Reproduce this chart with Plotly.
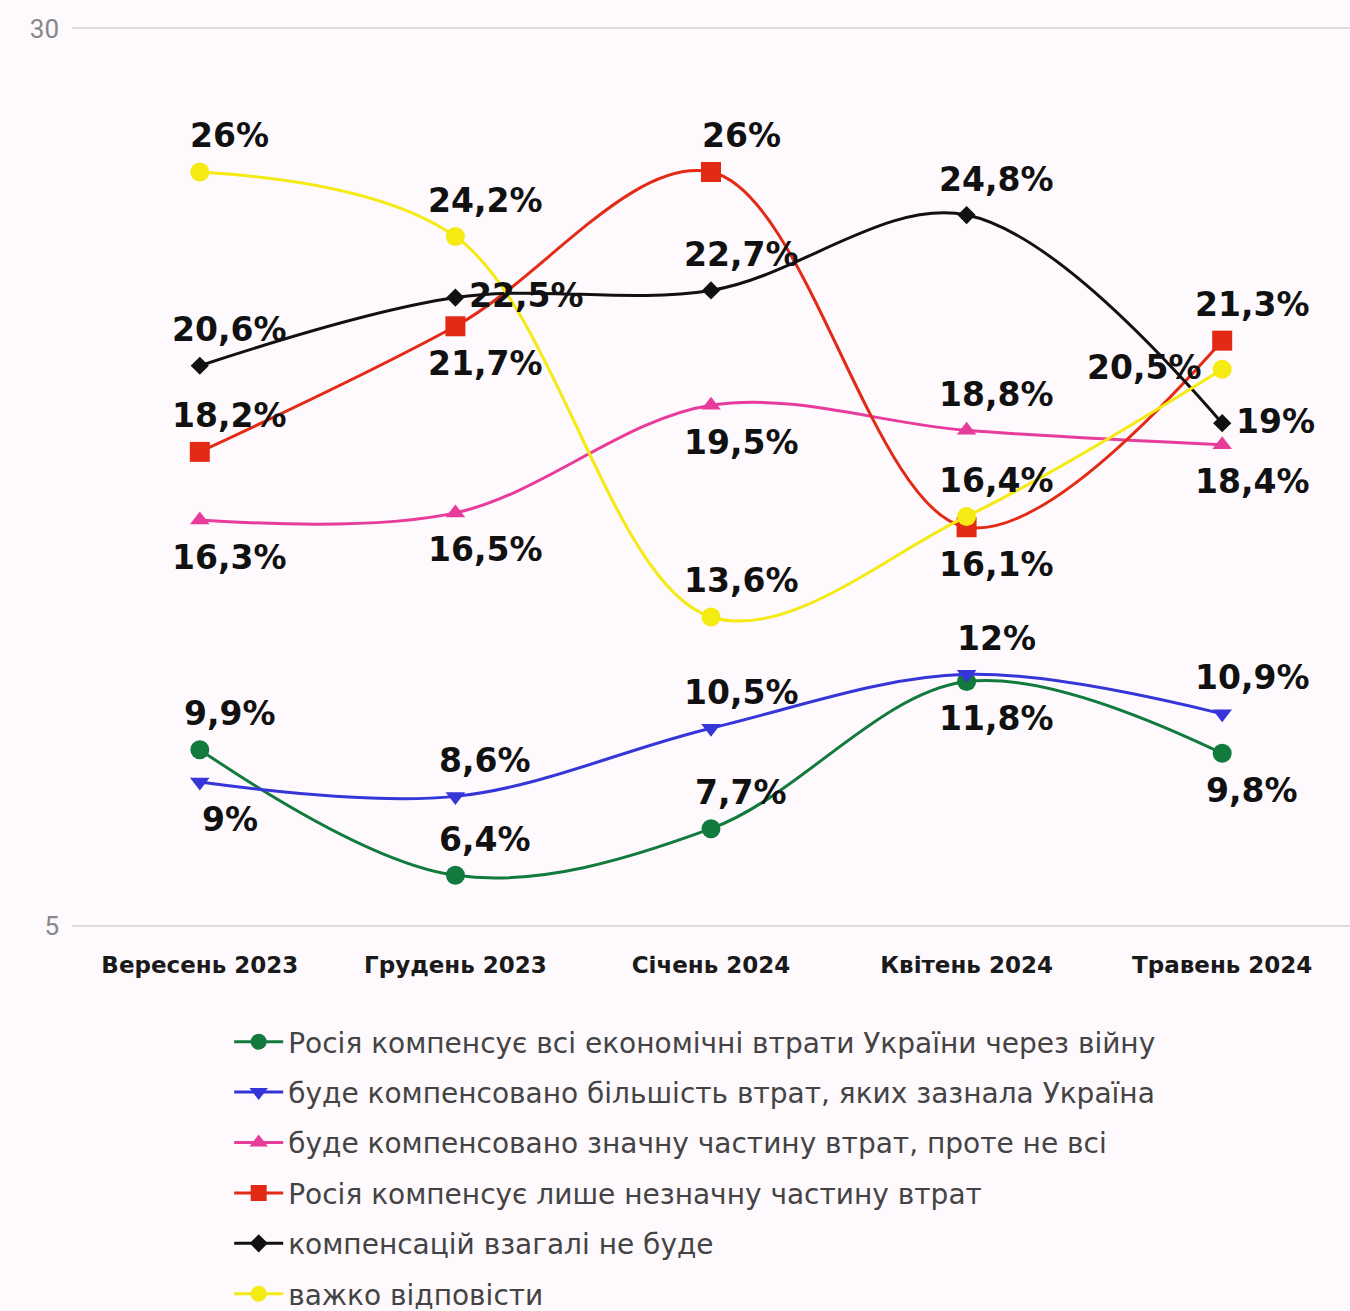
import plotly.graph_objects as go

categories = ["Вересень 2023", "Грудень 2023", "Січень 2024", "Квітень 2024", "Травень 2024"]

names = [
    "Росія компенсує всі економічні втрати України через війну",
    "буде компенсовано більшість втрат, яких зазнала Україна",
    "буде компенсовано значну частину втрат, проте не всі",
    "Росія компенсує лише незначну частину втрат",
    "компенсацій взагалі не буде",
    "важко відповісти",
]

all_losses = [9.9, 6.4, 7.7, 11.8, 9.8]
most_losses = [9.0, 8.6, 10.5, 12.0, 10.9]
large_part = [16.3, 16.5, 19.5, 18.8, 18.4]
small_part = [18.2, 21.7, 26.0, 16.1, 21.3]
no_comp = [20.6, 22.5, 22.7, 24.8, 19.0]
hard_to_say = [26.0, 24.2, 13.6, 16.4, 20.5]

y_ticks = [5, 30]

series = [all_losses, most_losses, large_part, small_part, no_comp, hard_to_say]

# styling
colors = ["#127a3c", "#3535d8", "#e83c9c", "#e32a14", "#111111", "#f5ea12"]
symbols = ["circle", "triangle-down", "triangle-up", "square", "diamond", "circle"]
msizes = [19, 17, 17, 20, 14, 19]
placements = [
    ["a", "a", "a", "b", "b"],
    ["b", "a", "a", "a", "a"],
    ["b", "b", "b", "a", "b"],
    ["a", "b", "a", "b", "a"],
    ["a", "r", "a", "a", "r"],
    ["a", "a", "a", "a", "l"],
]


def fmt(v):
    if abs(v - round(v)) < 1e-9:
        return f"{int(round(v))}%"
    return f"{v:.1f}".replace(".", ",") + "%"


fig = go.Figure()
annotations = []
for i, vals in enumerate(series):
    fig.add_trace(go.Scatter(
        x=categories, y=vals, name=names[i], mode="lines+markers",
        line=dict(color=colors[i], width=3, shape="spline", smoothing=1.0),
        marker=dict(color=colors[i], symbol=symbols[i], size=msizes[i]),
        legendgroup=f"g{i}",
    ))
    for j, v in enumerate(vals):
        p = placements[i][j]
        a = dict(x=categories[j], y=v, text=fmt(v), showarrow=False,
                 font=dict(family="DejaVu Sans", size=33, color="#111111", weight="bold"))
        if p == "a":
            a.update(xshift=30, yshift=36)
        elif p == "b":
            a.update(xshift=30, yshift=-37)
        elif p == "r":
            a.update(xanchor="left", xshift=12, yshift=2)
        else:
            a.update(xanchor="right", xshift=-18, yshift=2)
        annotations.append(a)

fig.update_layout(
    width=1350, height=1311,
    paper_bgcolor="#fdf9fd", plot_bgcolor="#fdf9fd",
    margin=dict(l=72, r=0, t=27, b=384),
    showlegend=True,
    legend=dict(
        x=0.123, xref="paper", y=1 - 1017 / 1311, yref="container",
        xanchor="left", yanchor="top",
        orientation="v", bgcolor="rgba(0,0,0,0)",
        font=dict(family="DejaVu Sans", size=28, color="#444444"),
        tracegroupgap=11, itemwidth=49,
    ),
    annotations=annotations,
)
fig.update_xaxes(
    type="category", range=[-0.5, 4.5], showgrid=False, zeroline=False,
    showline=False, ticks="", ticklabelstandoff=22,
    tickfont=dict(family="DejaVu Sans", size=23, color="#1a1a1a", weight="bold"),
)
fig.update_yaxes(
    range=[4.96, 30.04], tickvals=y_ticks, showgrid=True, gridcolor="#dedade", gridwidth=2,
    zeroline=False, showline=False, ticks="", ticklabelstandoff=12,
    tickfont=dict(family="Roboto", size=26, color="#888888"),
)

fig.write_html("out.html", config={"displayModeBar": False},
               post_script="document.body.style.margin='0';")
